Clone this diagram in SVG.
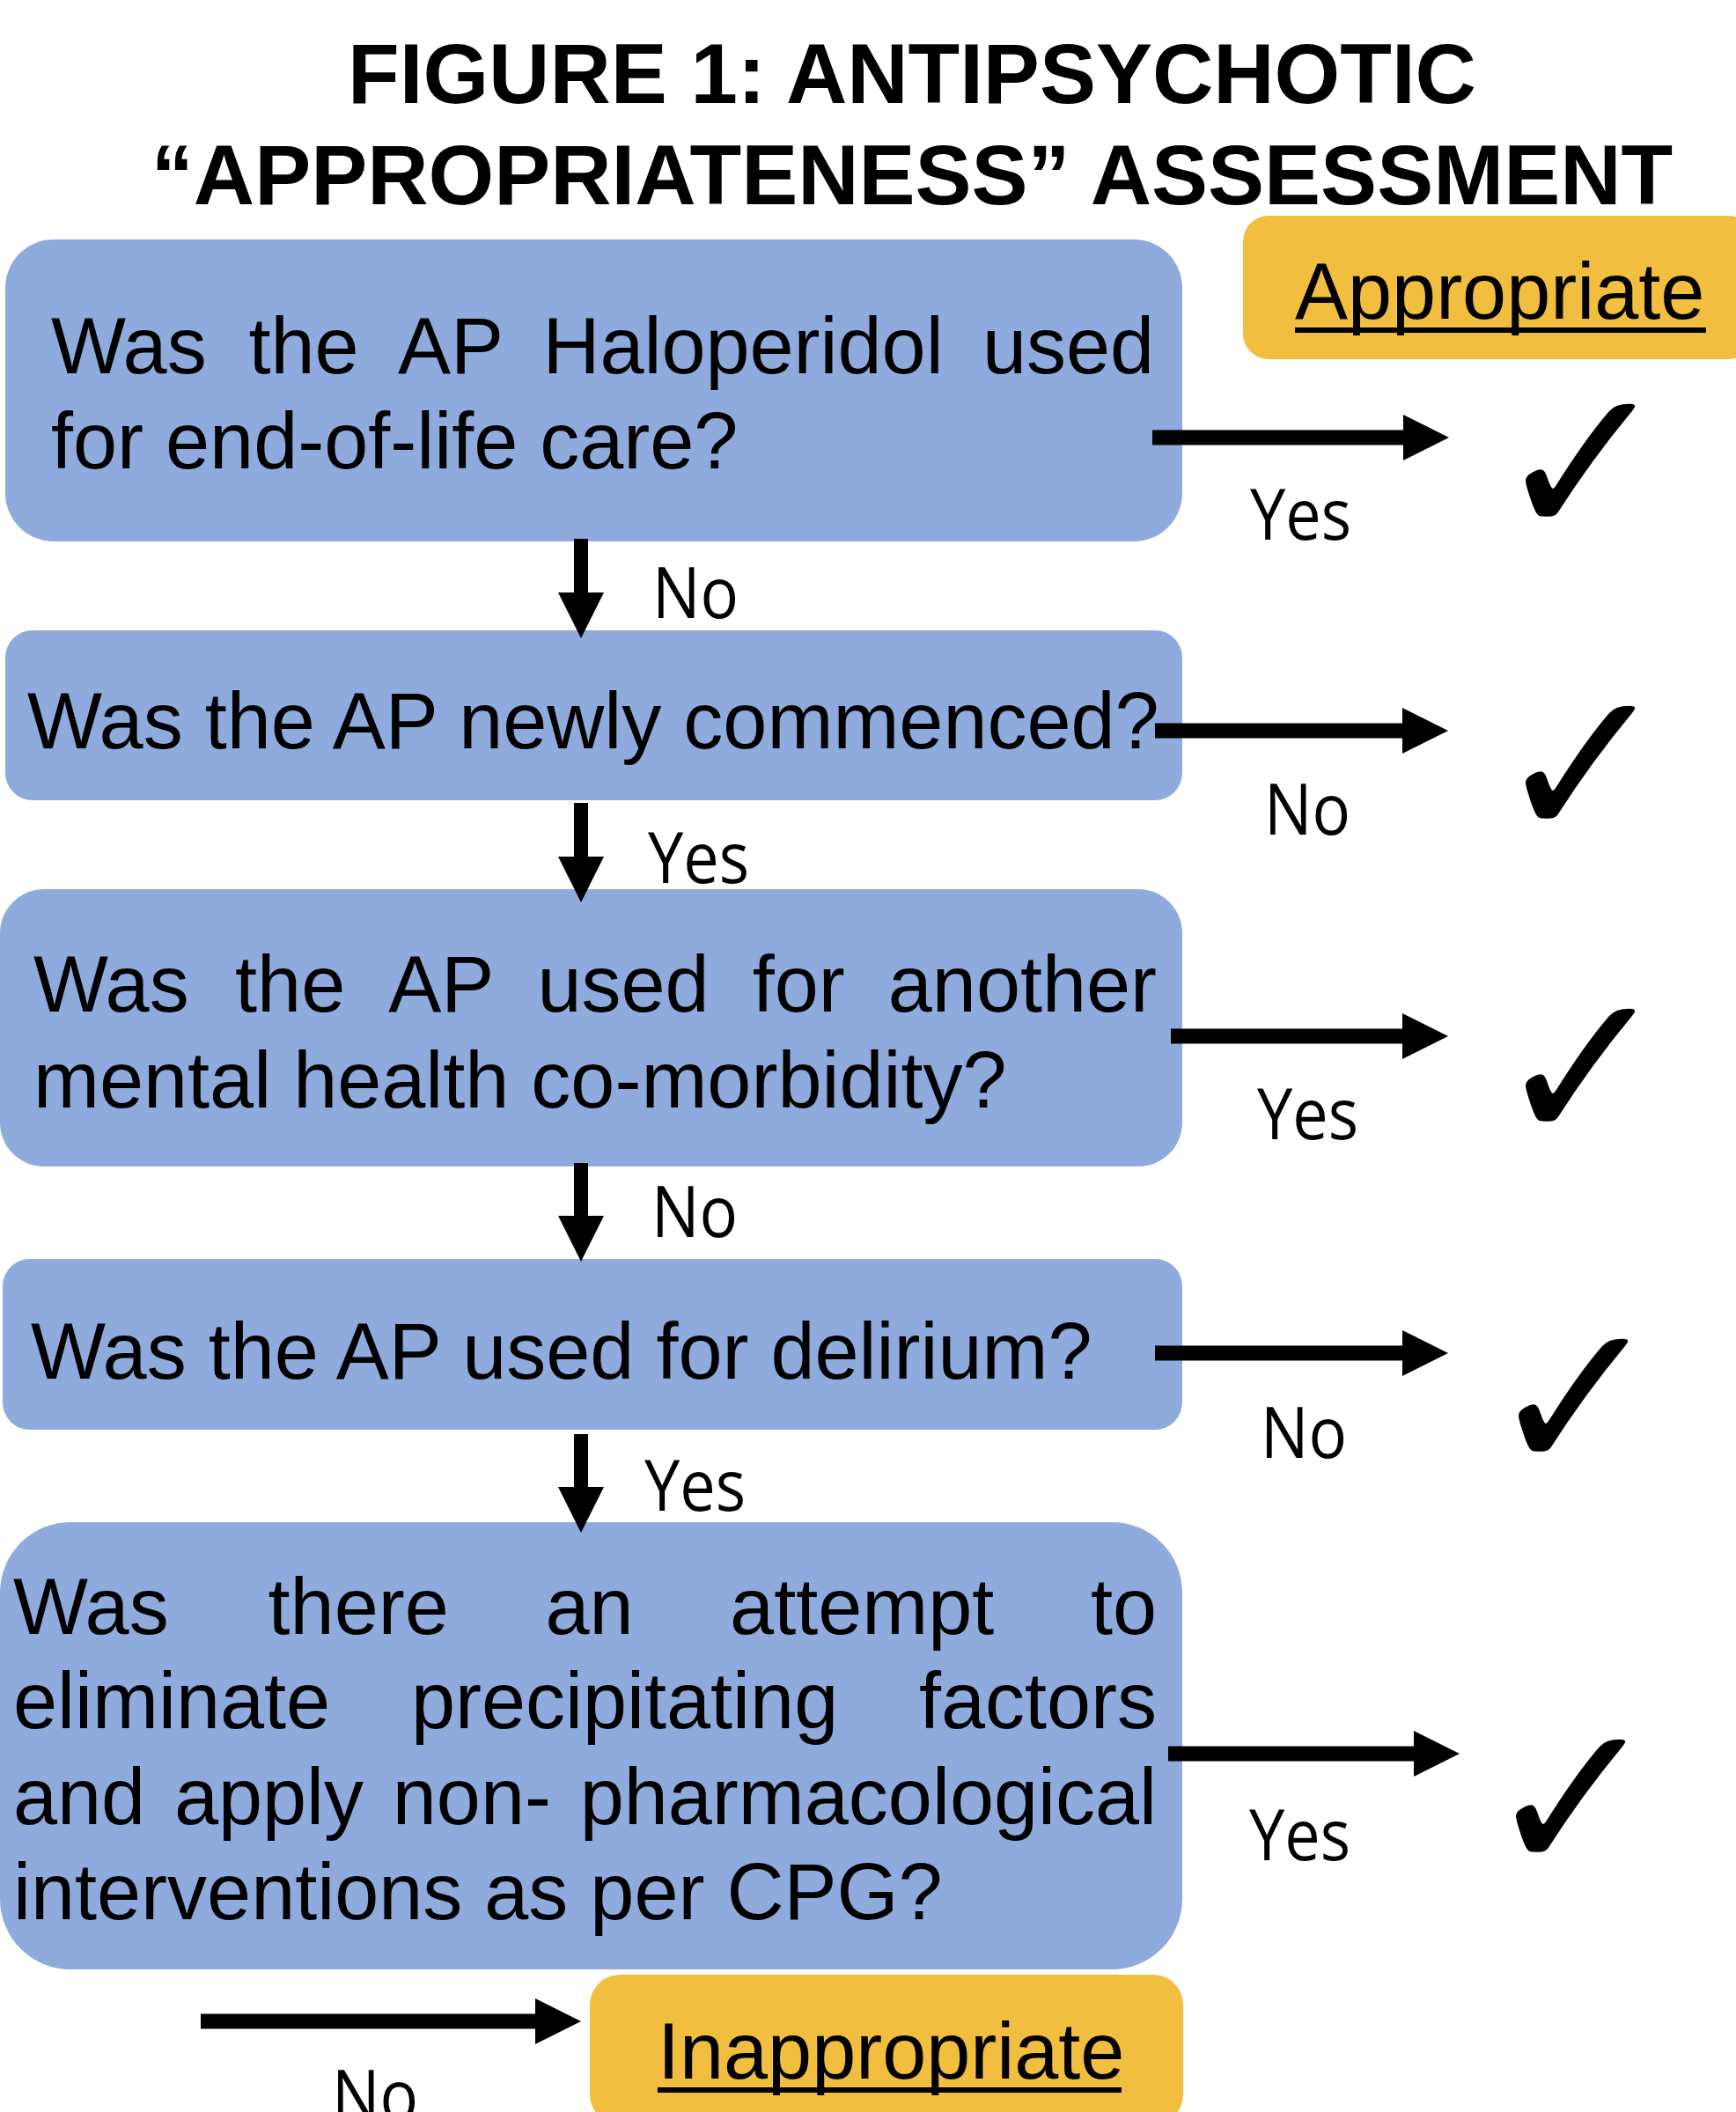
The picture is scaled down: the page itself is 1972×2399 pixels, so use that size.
<svg xmlns="http://www.w3.org/2000/svg" width="1972" height="2399" viewBox="0 0 1972 2399">
<defs>
<style>
.q{fill:#8FAADC}
.r{fill:#F1BE3F}
.t{font-family:"Liberation Sans",Arial,sans-serif;font-size:90px;fill:#000}
.h{font-family:"Liberation Sans",Arial,sans-serif;font-size:96px;font-weight:bold;fill:#000;text-anchor:middle}
.l{font-family:"Open Sans","Noto Sans",sans-serif;font-size:80px;fill:#000}
.u{font-family:"Liberation Sans",Arial,sans-serif;font-size:90px;fill:#000}
.c{font-family:"DejaVu Sans",sans-serif;font-size:240px;font-weight:bold;fill:#000}
.a{stroke:#000;stroke-width:17;fill:none}
.d{stroke:#000;stroke-width:16;fill:none}
</style>
<marker id="ah" markerUnits="userSpaceOnUse" markerWidth="52" markerHeight="52" refX="0" refY="26" orient="auto" overflow="visible">
<path d="M0,0 L52,26 L0,52 Z" fill="#000"/>
</marker>
</defs>
<rect width="1972" height="2399" fill="#fff"/>
<g id="title">
<text class="h" x="1036" y="117">FIGURE 1: ANTIPSYCHOTIC</text>
<text class="h" x="1036" y="232">“APPROPRIATENESS” ASSESSMENT</text>
</g>
<g id="node-appropriate">
<rect class="r" x="1412" y="245" width="580" height="163" rx="29"/>
<text class="u" x="1471" y="362">Appropriate</text>
<rect x="1471" y="372" width="467" height="6" fill="#000"/>
</g>
<g id="node-q1">
<rect class="q" x="6" y="272" width="1337" height="343" rx="55"/>
<text class="t" y="424"><tspan x="58">Was</tspan><tspan x="282.4">the</tspan><tspan x="451.9">AP</tspan><tspan x="616.4">Haloperidol</tspan><tspan x="1115.9">used</tspan></text>
<text class="t" x="58" y="532">for end-of-life care?</text>
</g>
<g id="node-q2">
<rect class="q" x="6" y="716" width="1337" height="193" rx="31"/>
<text class="t" x="31" y="850">Was the AP newly commenced?</text>
</g>
<g id="node-q3">
<rect class="q" x="0" y="1010" width="1343" height="315" rx="50"/>
<text class="t" y="1149"><tspan x="38">Was</tspan><tspan x="267.1">the</tspan><tspan x="441.3">AP</tspan><tspan x="610.5">used</tspan><tspan x="854.7">for</tspan><tspan x="1008.8">another</tspan></text>
<text class="t" x="38" y="1258">mental health co-morbidity?</text>
</g>
<g id="node-q4">
<rect class="q" x="3" y="1430" width="1340" height="194" rx="31"/>
<text class="t" x="35" y="1566">Was the AP used for delirium?</text>
</g>
<g id="node-q5">
<rect class="q" x="0" y="1729" width="1343" height="508" rx="80"/>
<text class="t" y="1856"><tspan x="15">Was</tspan><tspan x="304.6">there</tspan><tspan x="619.4">an</tspan><tspan x="829.1">attempt</tspan><tspan x="1238.9">to</tspan></text>
<text class="t" y="1963"><tspan x="15">eliminate</tspan><tspan x="466.9">precipitating</tspan><tspan x="1043.9">factors</tspan></text>
<text class="t" y="2072"><tspan x="15">and</tspan><tspan x="197.9">apply</tspan><tspan x="445.8">non-</tspan><tspan x="658.7">pharmacological</tspan></text>
<text class="t" x="15" y="2180">interventions as per CPG?</text>
</g>
<g id="node-inappropriate">
<rect class="r" x="670" y="2243" width="674" height="170" rx="34"/>
<text class="u" x="747" y="2361">Inappropriate</text>
<rect x="747" y="2371" width="527" height="6" fill="#000"/>
</g>
<g id="checks">
<text class="c" x="1697" y="610">✓</text>
<text class="c" x="1697" y="953">✓</text>
<text class="c" x="1697" y="1297">✓</text>
<text class="c" x="1689" y="1672">✓</text>
<text class="c" x="1686" y="2127">✓</text>
</g>
<g id="connectors">
<line class="a" x1="1309" y1="497" x2="1594" y2="497" marker-end="url(#ah)"/>
<line class="a" x1="1312" y1="830" x2="1593" y2="830" marker-end="url(#ah)"/>
<line class="a" x1="1330" y1="1177" x2="1593" y2="1177" marker-end="url(#ah)"/>
<line class="a" x1="1312" y1="1537" x2="1593" y2="1537" marker-end="url(#ah)"/>
<line class="a" x1="1327" y1="1992" x2="1606" y2="1992" marker-end="url(#ah)"/>
<line class="a" x1="228" y1="2296" x2="608" y2="2296" marker-end="url(#ah)"/>
<line class="d" x1="660" y1="612" x2="660" y2="673" marker-end="url(#ah)"/>
<line class="d" x1="660" y1="912" x2="660" y2="973" marker-end="url(#ah)"/>
<line class="d" x1="660" y1="1321" x2="660" y2="1381" marker-end="url(#ah)"/>
<line class="d" x1="660" y1="1629" x2="660" y2="1689" marker-end="url(#ah)"/>
<text class="l" x="1420" y="613" textLength="115" lengthAdjust="spacingAndGlyphs">Yes</text>
<text class="l" x="1436" y="948" textLength="98" lengthAdjust="spacingAndGlyphs">No</text>
<text class="l" x="1428" y="1294" textLength="115" lengthAdjust="spacingAndGlyphs">Yes</text>
<text class="l" x="1432" y="1656" textLength="98" lengthAdjust="spacingAndGlyphs">No</text>
<text class="l" x="1419" y="2113" textLength="115" lengthAdjust="spacingAndGlyphs">Yes</text>
<text class="l" x="741" y="702" textLength="98" lengthAdjust="spacingAndGlyphs">No</text>
<text class="l" x="736" y="1003" textLength="115" lengthAdjust="spacingAndGlyphs">Yes</text>
<text class="l" x="740" y="1405" textLength="98" lengthAdjust="spacingAndGlyphs">No</text>
<text class="l" x="732" y="1716" textLength="115" lengthAdjust="spacingAndGlyphs">Yes</text>
<text class="l" x="377" y="2409" textLength="98" lengthAdjust="spacingAndGlyphs">No</text>
</g>
</svg>
